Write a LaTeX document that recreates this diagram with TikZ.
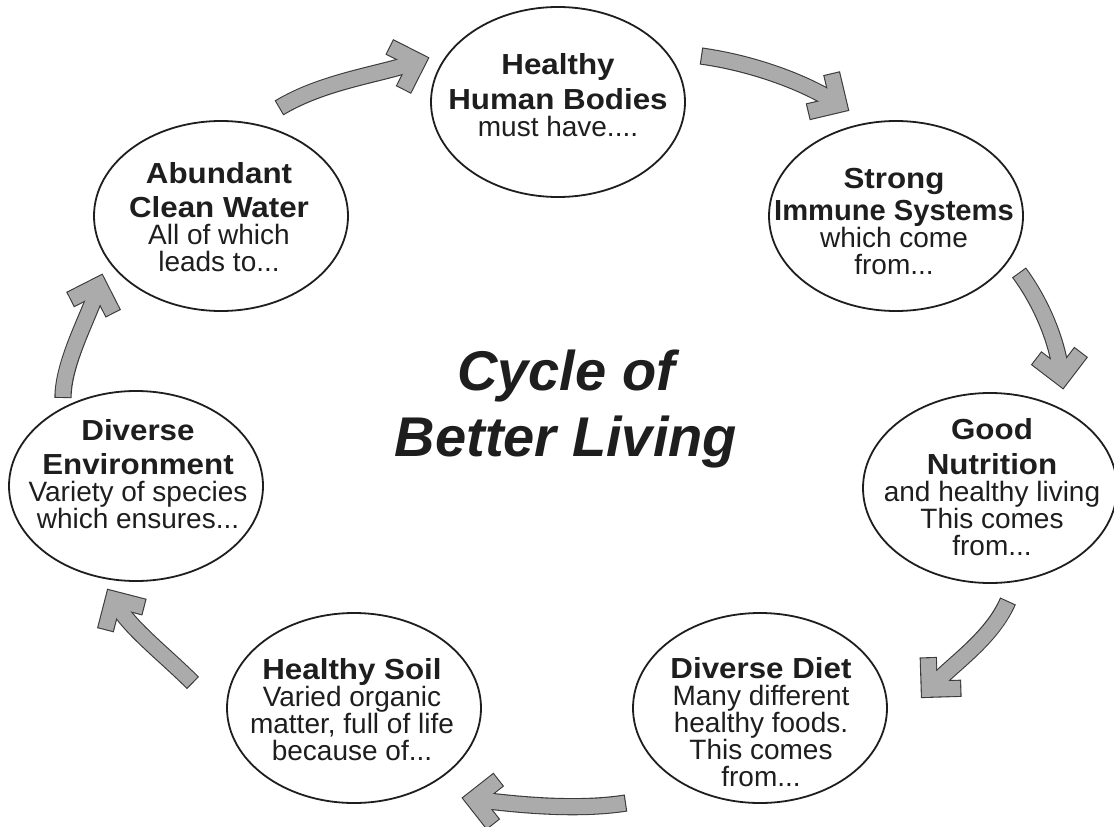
\documentclass[tikz,border=0pt]{standalone}
\usepackage{fontspec}
\setmainfont{Liberation Sans}
\newfontfamily\hb[FakeStretch=1.08]{Liberation Sans}
\usetikzlibrary{shapes.geometric,calc}
\definecolor{arrfill}{HTML}{ABABAB}
\definecolor{arrline}{HTML}{3A3A3A}
\definecolor{ink}{HTML}{1E1E1E}
\newcommand\headl[1]{{\hb\fontsize{29}{27}\selectfont\bfseries #1}}
% block arrow: name, tail, control 1, control 2, tip
\newcommand\cyclearrow[5]{%
  \coordinate (#1t) at (#2);
  \coordinate (#1a) at (#3);
  \coordinate (#1b) at (#4);
  \coordinate (#1p) at (#5);
  \coordinate (#1c) at ($(#1p)!10.61pt!(#1b)$);
  \coordinate (#1s) at ($(#1p)!18pt!(#1b)$);
  \coordinate (#1e) at ($(#1c)!31pt!45:(#1b)$);
  \coordinate (#1f) at ($(#1c)!31pt!-45:(#1b)$);
  \coordinate (#1E) at ($(#1c)!32.1pt!45:(#1b)$);
  \coordinate (#1F) at ($(#1c)!32.1pt!-45:(#1b)$);
  \draw[arrline, line width=17.2pt] (#1t) .. controls (#1a) and (#1b) .. (#1s);
  \draw[arrline, line width=17.2pt, line join=miter] (#1E) -- (#1c) -- (#1F);
  \draw[arrfill, line width=15pt, shorten <=1.1pt] (#1t) .. controls (#1a) and (#1b) .. (#1s);
  \draw[arrfill, line width=15pt, line join=miter] (#1e) -- (#1c) -- (#1f);
}
\tikzset{
  bubble/.style={ellipse, draw=ink, line width=1.8pt, minimum width=254pt, minimum height=190pt, inner sep=0pt},
  bubtext/.style={align=center, text=ink, inner sep=0pt, font=\fontsize{28}{27}\selectfont},
  titletext/.style={align=center, text=ink, inner sep=0pt, font=\fontsize{56}{66}\selectfont\bfseries\itshape}
}
\begin{document}
\begin{tikzpicture}[x=1pt,y=-1pt]
\useasboundingbox (0,0) rectangle (1114,827);
\fill[white] (0,0) rectangle (1114,827);

% ellipses
\node[bubble] (hhb) at (558,102) {};
\node[bubble] (sis) at (896,216) {};
\node[bubble] (acw) at (221,216) {};
\node[bubble] (gn)  at (990,488) {};
\node[bubble] (de)  at (136,486) {};
\node[bubble] (hs)  at (354,708) {};
\node[bubble] (dd)  at (760,708) {};

% texts
\node[bubtext] (hhbt) at (558,95) {\headl{Healthy}\\[7pt]\headl{Human Bodies}\\must have....};
\node[bubtext] (sist) at (894,222) {\headl{Strong}\\[5pt]\headl{\scalebox{0.93}[1]{Immune Systems}}\\which come\\from...};
\node[bubtext] (acwt) at (219,217) {\headl{Abundant}\\[7pt]\headl{Clean Water}\\All of which\\leads to...};
\node[bubtext] (gnt)  at (992,487) {\headl{Good}\\[8pt]\headl{Nutrition}\\and healthy living\\This comes\\from...};
\node[bubtext] (det)  at (138,474) {\headl{Diverse}\\[7pt]\headl{Environment}\\Variety of species\\which ensures...};
\node[bubtext] (hst)  at (352,710) {\headl{Healthy Soil}\\Varied organic\\matter, full of life\\because of...};
\node[bubtext] (ddt)  at (761,722) {\headl{Diverse Diet}\\Many different\\healthy foods.\\This comes\\from...};

% title
\node[titletext] (title) at (566,409) {Cycle of\\Better Living};

% arrows
\cyclearrow{aa}{279,108}{322,82}{376,75}{428,58}
\cyclearrow{ab}{701,56}{751,63}{801,81}{848,110}
\cyclearrow{ac}{1019,272.5}{1043,305}{1057,343}{1063,388}
\cyclearrow{ad}{1008,601}{992,638}{953,664}{922,697}
\cyclearrow{ae}{626,803}{575,811}{513,804}{463,798}
\cyclearrow{af}{193,683}{165,655}{131,629}{108,590}
\cyclearrow{ag}{63,398}{63,363}{88,318}{102,275}
\end{tikzpicture}
\end{document}
